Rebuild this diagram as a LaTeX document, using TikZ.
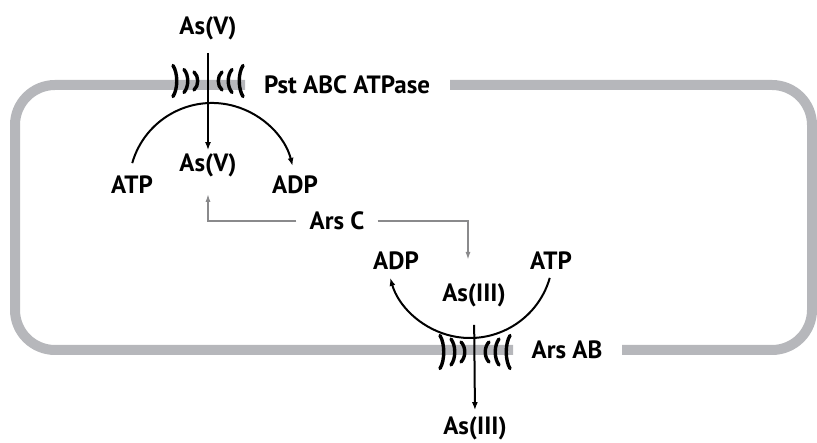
\documentclass[tikz,border=0pt]{standalone}
\usepackage{fontspec}
\setmainfont{PT Sans}
\usetikzlibrary{arrows.meta}
\definecolor{membrane}{RGB}{182,183,187}
\definecolor{signal}{RGB}{138,138,140}
\tikzset{
  lbl/.style={font=\bfseries\fontsize{25}{27}\selectfont,inner sep=1pt},
  flow/.style={line width=2pt,-{Latex[length=8pt,width=6pt]}},
  relay/.style={line width=2pt,draw=signal,-{Latex[length=8pt,width=5pt]}},
  wall/.style={line width=3.4pt,line cap=round},
}
\begin{document}
\begin{tikzpicture}[x=1pt,y=1pt]
  \useasboundingbox (0,0) rectangle (817,443);
  % cell membrane
  \draw[membrane,line width=10pt,rounded corners=40pt]
    (450,358) -- (812,358) -- (812,93) -- (622,93);
  \draw[membrane,line width=10pt,rounded corners=40pt]
    (513,93) -- (15,93) -- (15,358) -- (245,358);
  % labels
  \node[lbl] (asvOut) at (208,415) {As(V)};
  \node[lbl] (pst) at (347,358) {Pst ABC ATPase};
  \node[lbl] (atp1) at (132,258) {ATP};
  \node[lbl] (asvIn) at (208,278) {As(V)};
  \node[lbl] (adp1) at (295,258) {ADP};
  \node[lbl] (arsC) at (337,222) {Ars C};
  \node[lbl] (adp2) at (396,182) {ADP};
  \node[lbl] (atp2) at (551,182) {ATP};
  \node[lbl] (asiiiIn) at (474,148) {As(III)};
  \node[lbl] (arsAB) at (567,93) {Ars AB};
  \node[lbl] (asiiiOut) at (475,15) {As(III)};
  \coordinate (pump1) at (212,257);
  \coordinate (pump2) at (470,188);
  \coordinate (arsCtip) at (468,183);
  % channels
  \begin{scope}[shift={(208,362)}]
    \foreach \o/\h in {12/9,22/11.5,33/15.5} {
      \draw[wall] (-\o-2,\h) .. controls (-\o+3,\h/2) and (-\o+3,-\h/2) .. (-\o-2,-\h);
      \draw[wall] (\o+2,\h) .. controls (\o-3,\h/2) and (\o-3,-\h/2) .. (\o+2,-\h);
    }
  \end{scope}
  \begin{scope}[shift={(475,91)}]
    \foreach \o/\h in {12/10,22/13,33/16.5} {
      \draw[wall] (-\o-2,\h) .. controls (-\o+3,\h/2) and (-\o+3,-\h/2) .. (-\o-2,-\h);
      \draw[wall] (\o+2,\h) .. controls (\o-3,\h/2) and (\o-3,-\h/2) .. (\o+2,-\h);
    }
  \end{scope}
  % transport
  \draw[flow,shorten <=12pt,shorten >=2pt] (asvOut.south) -- (asvIn.north);
  \draw[flow] (pump1) ++(164:83) arc[start angle=164,end angle=14,radius=83pt];
  \draw[flow] (pump2) ++(-16:83) arc[start angle=-16,end angle=-164,radius=83pt];
  \draw[flow,shorten <=17pt,shorten >=5pt] (asiiiIn.south) -- (asiiiOut.north);
  % reduction
  \draw[relay,shorten <=12pt,shorten >=16pt] (arsC.west) -| (asvIn.south);
  \draw[relay,shorten <=12pt] (arsC.east) -| (arsCtip);
\end{tikzpicture}
\end{document}
